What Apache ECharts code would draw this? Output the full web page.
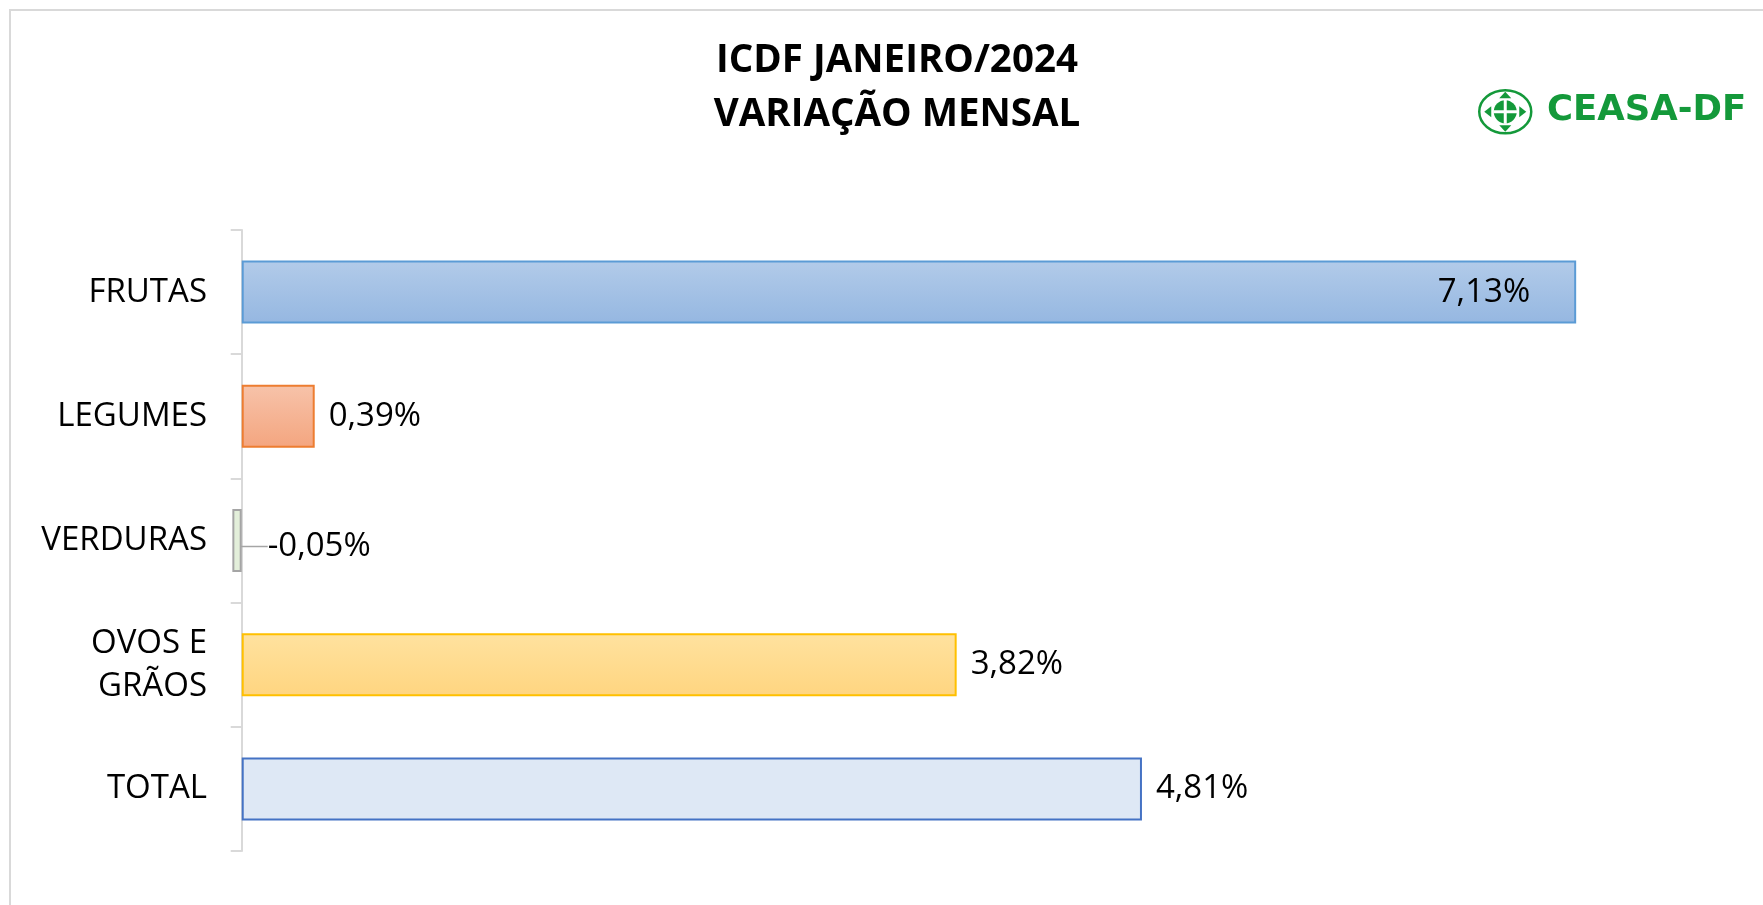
<!DOCTYPE html>
<html>
<head>
<meta charset="utf-8">
<title>ICDF Janeiro/2024</title>
<script src="https://cdn.jsdelivr.net/npm/echarts@6/dist/echarts.min.js"></script>
<style>
    html, body { margin: 0; padding: 0; background: #fff; }
    #chart { width: 1763px; height: 905px; }
</style>
</head>
<body>
<div id="chart"></div>
<script>
// dados do gráfico
const categorias = ['FRUTAS', 'LEGUMES', 'VERDURAS', 'OVOS E\nGRÃOS', 'TOTAL'];
const variacao = [7.13, 0.39, -0.05, 3.82, 4.81];

// cores de cada barra (topo, base, borda)
const coresTopo = ['#b2cbe9', '#f7c3aa', '#e3efda', '#ffe29f', '#dee8f5'];
const coresBase = ['#95b7e1', '#f4a57f', '#e3efda', '#ffd580', '#dee8f5'];
const coresBorda = ['#5b9bd5', '#ed7d31', '#a5a5a5', '#ffc000', '#4472c4'];

const fonte = "'Open Sans', 'Noto Sans', sans-serif";
const verde = '#14993a';

const chart = echarts.init(document.getElementById('chart'));

const dados = variacao.map((v, i) => {
    const item = {
        value: v,
        itemStyle: {
            color: new echarts.graphic.LinearGradient(0, 0, 0, 1, [
                { offset: 0, color: coresTopo[i] },
                { offset: 1, color: coresBase[i] }
            ]),
            borderColor: coresBorda[i],
            borderWidth: 2
        }
    };
    // primeiro rótulo fica dentro da barra
    if (i === 0) {
        item.label = { position: 'insideRight', distance: 46 };
    }
    // valor negativo: rótulo deslocado com linha guia
    if (v < 0) {
        item.labelLine = { show: true, lineStyle: { color: '#a5a5a5', width: 1.5 } };
    }
    return item;
});

const option = {
    backgroundColor: '#fff',
    animation: false,
    title: {
        text: 'ICDF JANEIRO/2024\nVARIAÇÃO MENSAL',
        left: 892,
        textAlign: 'center',
        top: 29,
        textStyle: {
            fontFamily: fonte,
            fontWeight: 'bold',
            fontSize: 38.5,
            lineHeight: 54,
            color: '#000'
        }
    },
    grid: {
        left: 223,
        right: 24,
        top: 230,
        bottom: 54
    },
    xAxis: {
        type: 'value',
        min: -0.1,
        max: 8,
        show: false,
        splitLine: { show: false }
    },
    yAxis: {
        type: 'category',
        data: categorias,
        inverse: true,
        axisLine: {
            show: true,
            onZero: true,
            lineStyle: { color: '#d9d9d9', width: 2 }
        },
        axisTick: {
            show: true,
            length: 11,
            lineStyle: { color: '#d9d9d9', width: 2 }
        },
        axisLabel: {
            margin: 16,
            fontFamily: fonte,
            fontSize: 33,
            lineHeight: 43,
            color: '#000',
            align: 'right'
        }
    },
    series: [{
        type: 'bar',
        data: dados,
        barWidth: 63,
        label: {
            show: true,
            position: 'right',
            distance: 14,
            fontFamily: fonte,
            fontSize: 33,
            color: '#000',
            formatter: p => p.value.toFixed(2).replace('.', ',') + '%'
        },
        labelLine: { show: false },
        labelLayout: p => (p.dataIndex === 2 ? { dx: 12, dy: 6 } : {})
    }],
    graphic: [
        // moldura
        {
            type: 'rect',
            shape: { x: 10, y: 10, width: 1770, height: 920 },
            style: { fill: 'none', stroke: '#d9d9d9', lineWidth: 2 },
            silent: true
        },
        // logo CEASA-DF
        {
            type: 'group',
            left: 1478,
            top: 89,
            children: [
                {
                    type: 'ellipse',
                    shape: { cx: 27, cy: 23, rx: 26, ry: 21.5 },
                    style: { fill: '#fff', stroke: verde, lineWidth: 2.5 }
                },
                {
                    type: 'circle',
                    shape: { cx: 27, cy: 23, r: 11.5 },
                    style: { fill: verde }
                },
                {
                    type: 'rect',
                    shape: { x: 25.5, y: 11, width: 3, height: 24 },
                    style: { fill: '#fff' }
                },
                {
                    type: 'rect',
                    shape: { x: 15, y: 21.5, width: 24, height: 3 },
                    style: { fill: '#fff' }
                },
                {
                    type: 'polygon',
                    shape: { points: [[27, 3], [21, 9.5], [33, 9.5]] },
                    style: { fill: verde }
                },
                {
                    type: 'polygon',
                    shape: { points: [[27, 43], [21, 36.5], [33, 36.5]] },
                    style: { fill: verde }
                },
                {
                    type: 'polygon',
                    shape: { points: [[6, 23], [13, 17.5], [13, 28.5]] },
                    style: { fill: verde }
                },
                {
                    type: 'polygon',
                    shape: { points: [[48, 23], [41, 17.5], [41, 28.5]] },
                    style: { fill: verde }
                }
            ]
        },
        {
            type: 'text',
            left: 1547,
            top: 93,
            style: {
                text: 'CEASA-DF',
                fill: verde,
                font: "bold 35.5px 'DejaVu Sans', sans-serif"
            }
        }
    ]
};

chart.setOption(option);
</script>
</body>
</html>
